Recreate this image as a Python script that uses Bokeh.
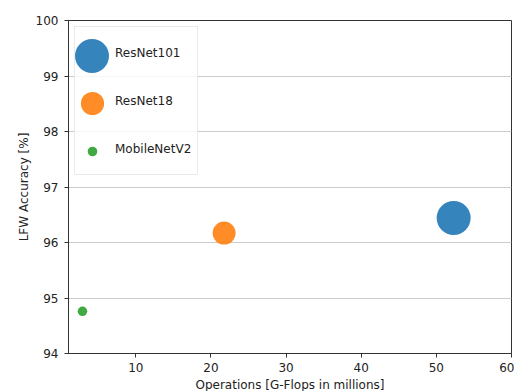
from bokeh.plotting import figure
from bokeh.models import Range1d, FixedTicker, Legend, LegendItem
from bokeh.embed import file_html
from bokeh.resources import INLINE

# ---- data ----
models = ["ResNet101", "ResNet18", "MobileNetV2"]
gflops = [52.3, 21.75, 2.9]
accuracy = [96.44, 96.17, 94.76]
marker_px = [34, 23, 9.5]
colors = ["#1f77b4", "#ff7f0e", "#2ca02c"]
x_ticks = [10, 20, 30, 40, 50, 60]
y_ticks = [94, 95, 96, 97, 98, 99, 100]

FONT = "DejaVu Sans"

p = figure(
    output_backend="svg", toolbar_location=None,
    frame_width=443, frame_height=333,
    min_border_left=68, min_border_right=3, min_border_top=20, min_border_bottom=37,
    x_range=Range1d(1.04, 60), y_range=Range1d(94, 100),
    background_fill_color="white", border_fill_color="white",
)
p.outline_line_color = "#333333"
p.outline_line_width = 1

p.xaxis.ticker = FixedTicker(ticks=x_ticks)
p.yaxis.ticker = FixedTicker(ticks=y_ticks)
for ax in (p.xaxis[0], p.yaxis[0]):
    ax.axis_line_color = "#333333"
    ax.major_tick_line_color = "#333333"
    ax.major_tick_out = 4
    ax.major_tick_in = 0
    ax.minor_tick_line_color = None
    ax.major_label_text_font = FONT
    ax.major_label_text_font_size = "12px"
    ax.major_label_text_color = "#222222"
    ax.axis_label_text_font = FONT
    ax.axis_label_text_font_size = "12px"
    ax.axis_label_text_font_style = "normal"
    ax.axis_label_text_color = "#222222"
p.xaxis.axis_label = "Operations [G-Flops in millions]"
p.yaxis.axis_label = "LFW Accuracy [%]"
p.xaxis.major_label_standoff = 5
p.yaxis.major_label_standoff = 6
p.xaxis.axis_label_standoff = 3
p.yaxis.axis_label_standoff = 2

p.xgrid.grid_line_color = None
p.ygrid.grid_line_color = "#cccccc"
p.ygrid.grid_line_width = 1

renderers = []
dummies = []
for name, gx, acc, sz, c in zip(models, gflops, accuracy, marker_px, colors):
    r = p.scatter(x=[gx], y=[acc], size=sz, fill_color=c, line_color=c,
                  line_width=0, fill_alpha=0.9, line_alpha=0.9)
    renderers.append(r)
    d = p.scatter(x=[], y=[], fill_alpha=0, line_alpha=0)
    dummies.append(d)

# main legend box with labels (glyphs from invisible dummy renderers)
legA = Legend(
    items=[LegendItem(label=m, renderers=[d]) for m, d in zip(models, dummies)],
    location="top_left", margin=6, padding=3, spacing=3,
    glyph_width=30, glyph_height=45, label_standoff=7, label_width=79, label_height=20,
    label_text_font=FONT, label_text_font_size="12px", label_text_color="#222222",
    background_fill_color="white", background_fill_alpha=0.8,
    border_line_color="#d5d5d5", border_line_width=1,
)
p.add_layout(legA, "center")

# per-model marker legends with marker-specific sizes
centers_from_bottom = [297.3, 250.3, 202.3]
for r, sz, cy in zip(renderers, marker_px, centers_from_bottom):
    G = int(round(sz / 0.4))
    leg = Legend(
        items=[LegendItem(label=" ", renderers=[r])],
        location=(23.5 - G / 2, cy - G / 2), margin=0, padding=0, spacing=0,
        glyph_width=G, glyph_height=G, label_standoff=0, label_width=0, label_height=0,
        label_text_font_size="1px",
        background_fill_alpha=0, border_line_alpha=0,
    )
    p.add_layout(leg, "center")

open("out.html", "w").write(file_html(p, INLINE))
